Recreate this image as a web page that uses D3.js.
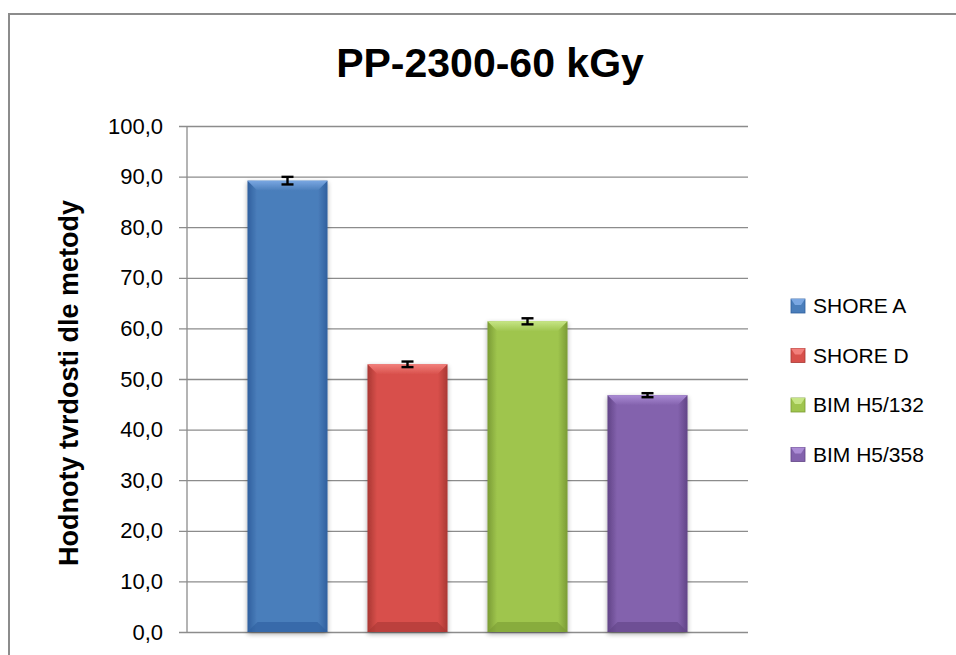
<!DOCTYPE html>
<html>
<head>
<meta charset="utf-8">
<script src="https://cdn.jsdelivr.net/npm/d3@7"></script>
<style>
  body { margin: 0; background: #fff; }
  svg { display: block; font-family: "Liberation Sans", Arial, sans-serif; }
</style>
</head>
<body>
<div id="chart"></div>
<script>
// data
const series = ["SHORE A", "SHORE D", "BIM H5/132", "BIM H5/358"];
const values = [89.2, 52.9, 61.4, 46.8];
const errors = [0.75, 0.55, 0.6, 0.4];
const yTicks = [0, 10, 20, 30, 40, 50, 60, 70, 80, 90, 100];
const colors = ["#4a7ebb", "#d8504b", "#9fc54e", "#8362ad"];
const light = ["#7aa7e2", "#f27f7b", "#c6e585", "#ab8cd5"];
const dark = ["#2f5f9e", "#a93733", "#7a9b34", "#614486"];

const W = 956, H = 655;
const margin = { top: 126, left: 187, right: 208, bottom: 23 };
const plotW = W - margin.left - margin.right,
  plotH = H - margin.top - margin.bottom;

const csLocale = d3.formatLocale({ decimal: ",", thousands: " ", grouping: [3], currency: ["", " Kč"] });
const fmt = csLocale.format(".1f");

const svg = d3.select("#chart").append("svg")
  .attr("width", W)
  .attr("height", H);

// outer chart frame (continues past right/bottom edge)
svg.append("rect")
  .attr("x", 9).attr("y", 14)
  .attr("width", 1000).attr("height", 800)
  .attr("fill", "none")
  .attr("stroke", "#8c8c8c")
  .attr("stroke-width", 2);

const defs = svg.append("defs");
series.forEach((s, i) => {
  const g = defs.append("linearGradient").attr("id", "body" + i)
    .attr("x1", "0").attr("x2", "1").attr("y1", "0").attr("y2", "0");
  g.append("stop").attr("offset", "0%").attr("stop-color", dark[i]);
  g.append("stop").attr("offset", "12%").attr("stop-color", colors[i]);
  g.append("stop").attr("offset", "88%").attr("stop-color", colors[i]);
  g.append("stop").attr("offset", "100%").attr("stop-color", dark[i]);
  const t = defs.append("linearGradient").attr("id", "top" + i)
    .attr("x1", "0").attr("x2", "0").attr("y1", "0").attr("y2", "1");
  t.append("stop").attr("offset", "0%").attr("stop-color", light[i]);
  t.append("stop").attr("offset", "100%").attr("stop-color", colors[i]);
});
const shadow = defs.append("filter").attr("id", "shadow")
  .attr("x", "-20%").attr("y", "-5%").attr("width", "140%").attr("height", "115%");
shadow.append("feGaussianBlur").attr("in", "SourceAlpha").attr("stdDeviation", 2.5);
shadow.append("feOffset").attr("dx", 0).attr("dy", 2).attr("result", "b");
shadow.append("feComponentTransfer").append("feFuncA").attr("type", "linear").attr("slope", 0.35);
const fm = shadow.append("feMerge");
fm.append("feMergeNode");
fm.append("feMergeNode").attr("in", "SourceGraphic");

const g = svg.append("g")
  .attr("transform", "translate(" + margin.left + "," + margin.top + ")");

// scales
const yScale = d3.scaleLinear().domain([0, 100]).range([plotH, 0]);
const xScale = d3.scaleBand().domain(series).range([0, plotW])
  .paddingInner(0.333).paddingOuter(0.504);

// gridlines + y axis
const yAxis = d3.axisLeft(yScale).tickValues(yTicks).tickFormat(fmt)
  .tickSize(-plotW).tickPadding(24);
const ya = g.append("g").attr("class", "y-axis").call(yAxis);
ya.select(".domain").remove();
ya.selectAll(".tick line").attr("stroke", "#8c8c8c").attr("stroke-width", 1.3)
  .attr("x1", -8);
ya.selectAll(".tick text").attr("font-size", 22).attr("fill", "#000");
g.append("line")
  .attr("x1", 0).attr("x2", 0).attr("y1", 0).attr("y2", plotH)
  .attr("stroke", "#8c8c8c").attr("stroke-width", 1.3);

// bars
const bw = xScale.bandwidth();
const bev = 10;
const bars = g.selectAll(".bar").data(series).enter().append("g")
  .attr("class", "bar")
  .attr("transform", d => "translate(" + xScale(d) + ",0)")
  .attr("filter", "url(#shadow)");

bars.append("rect")
  .attr("x", 0).attr("width", bw)
  .attr("y", (d, i) => yScale(values[i]))
  .attr("height", (d, i) => plotH - yScale(values[i]))
  .attr("fill", (d, i) => "url(#body" + i + ")");
// top bevel
bars.append("path")
  .attr("d", (d, i) => {
    const y0 = yScale(values[i]);
    return "M0," + y0 + "H" + bw + "L" + (bw - bev) + "," + (y0 + bev) + "H" + bev + "Z";
  })
  .attr("fill", (d, i) => "url(#top" + i + ")");
// bottom bevel
bars.append("path")
  .attr("d", () => "M0," + plotH + "H" + bw + "L" + (bw - bev) + "," + (plotH - bev) + "H" + bev + "Z")
  .attr("fill", (d, i) => dark[i]).attr("opacity", 0.6);

// error bars
const cap = 6;
const eb = g.selectAll(".err").data(series).enter().append("g")
  .attr("class", "err")
  .attr("stroke", "#000").attr("stroke-width", 2.4);
eb.append("line")
  .attr("x1", d => xScale(d) + bw / 2).attr("x2", d => xScale(d) + bw / 2)
  .attr("y1", (d, i) => yScale(values[i] + errors[i]))
  .attr("y2", (d, i) => yScale(values[i] - errors[i]));
eb.append("line")
  .attr("x1", d => xScale(d) + bw / 2 - cap).attr("x2", d => xScale(d) + bw / 2 + cap)
  .attr("y1", (d, i) => yScale(values[i] + errors[i]))
  .attr("y2", (d, i) => yScale(values[i] + errors[i]));
eb.append("line")
  .attr("x1", d => xScale(d) + bw / 2 - cap).attr("x2", d => xScale(d) + bw / 2 + cap)
  .attr("y1", (d, i) => yScale(values[i] - errors[i]))
  .attr("y2", (d, i) => yScale(values[i] - errors[i]));

// title
svg.append("text")
  .text("PP-2300-60 kGy")
  .attr("x", 490).attr("y", 77)
  .attr("text-anchor", "middle")
  .attr("font-weight", "bold")
  .attr("font-size", 41)
  .attr("fill", "#000");

// y axis title
svg.append("text")
  .text("Hodnoty tvrdosti dle metody")
  .attr("transform", "translate(78,383) rotate(-90)")
  .attr("text-anchor", "middle")
  .attr("font-weight", "bold")
  .attr("font-size", 27)
  .attr("fill", "#000");

// legend
const legend = svg.append("g").attr("transform", "translate(791,306)");
const li = legend.selectAll(".li").data(series).enter().append("g")
  .attr("transform", (d, i) => "translate(0," + i * 49.5 + ")");
li.append("rect")
  .attr("x", 0).attr("y", -7).attr("width", 14).attr("height", 14)
  .attr("fill", (d, i) => colors[i])
  .attr("stroke", (d, i) => dark[i]).attr("stroke-width", 0.8);
li.append("path")
  .attr("d", "M0,-7H14L10,-1H4Z")
  .attr("fill", (d, i) => light[i]);
li.append("text")
  .text(d => d)
  .attr("x", 22).attr("y", 0)
  .attr("dy", "0.35em")
  .attr("font-size", 21)
  .attr("fill", "#000");
</script>
</body>
</html>
